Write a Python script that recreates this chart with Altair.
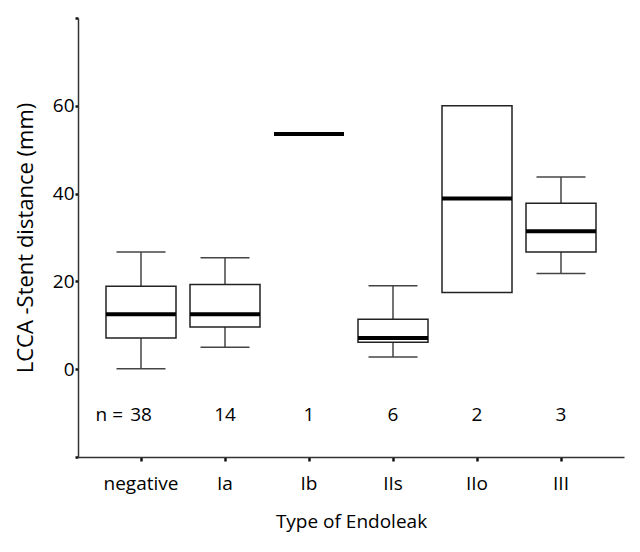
import altair as alt
import pandas as pd

categories = ["negative", "Ia", "Ib", "IIs", "IIo", "III"]
lower_whisker = [0.1, 5.0, None, 2.8, None, 21.8]
q1 = [7.1, 9.6, None, 6.15, 17.5, 26.7]
median = [12.5, 12.5, 53.6, 7.1, 38.9, 31.4]
q3 = [18.9, 19.3, None, 11.4, 60.0, 37.8]
upper_whisker = [26.7, 25.4, None, 19.0, None, 43.8]
n_counts = ["38", "14", "1", "6", "2", "3"]
n_label_y = -10.5

df = pd.DataFrame({
    "cat": categories,
    "lower": lower_whisker,
    "q1": q1,
    "median": median,
    "q3": q3,
    "upper": upper_whisker,
    "n": n_counts,
})
df["ny"] = n_label_y

FONT = "Open Sans"
FS = 19

x_enc = alt.X(
    "cat:N",
    sort=categories,
    scale=alt.Scale(paddingInner=0, paddingOuter=0.25),
    axis=alt.Axis(
        title="Type of Endoleak",
        labelAngle=0,
        domainColor="#333",
        domainWidth=1.5,
        tickColor="#111",
        tickWidth=2.5,
        tickSize=4,
        labelPadding=13,
        titlePadding=19,
        labelFont=FONT,
        titleFont=FONT,
        labelFontSize=FS,
        titleFontSize=FS,
        titleFontWeight="normal",
        labelColor="black",
        titleColor="black",
        grid=False,
    ),
)
y_scale = alt.Scale(domain=[-20, 80], nice=False, zero=False)
y_axis = alt.Axis(
    title="LCCA -Stent distance (mm)",
    values=[-20, 0, 20, 40, 60, 80],
    labelExpr="datum.value >= 0 && datum.value <= 60 ? datum.label : ''",
    domainColor="#333",
    domainWidth=1.5,
    tickColor="#111",
    tickWidth=2.5,
    tickSize=3,
    labelPadding=1,
    titlePadding=15,
    labelFont=FONT,
    titleFont=FONT,
    labelFontSize=FS,
    titleFontSize=22,
    titleFontWeight="normal",
    labelColor="black",
    titleColor="black",
    grid=False,
)

base = alt.Chart(df)

whisk_lo = base.transform_filter("isValid(datum.lower)").mark_rule(
    color="#444", strokeWidth=1.5
).encode(x=x_enc, y=alt.Y("lower:Q", scale=y_scale, axis=y_axis), y2="q1:Q")

whisk_hi = base.transform_filter("isValid(datum.upper)").mark_rule(
    color="#444", strokeWidth=1.5
).encode(x=x_enc, y=alt.Y("q3:Q", scale=y_scale, axis=y_axis), y2="upper:Q")

cap_lo = base.transform_filter("isValid(datum.lower)").mark_tick(
    color="#444", thickness=1.5, size=49, opacity=1
).encode(x=x_enc, y=alt.Y("lower:Q", scale=y_scale, axis=y_axis))

cap_hi = base.transform_filter("isValid(datum.upper)").mark_tick(
    color="#444", thickness=1.5, size=49, opacity=1
).encode(x=x_enc, y=alt.Y("upper:Q", scale=y_scale, axis=y_axis))

box = base.transform_filter("isValid(datum.q1)").mark_bar(
    size=70, fill="white", stroke="#222", strokeWidth=1.5, opacity=1
).encode(x=x_enc, y=alt.Y("q1:Q", scale=y_scale, axis=y_axis), y2="q3:Q")

med = base.mark_tick(color="black", thickness=4, size=70, opacity=1).encode(
    x=x_enc, y=alt.Y("median:Q", scale=y_scale, axis=y_axis)
)

ntext = base.mark_text(
    font=FONT, fontSize=FS, color="black", baseline="middle", align="center"
).encode(x=x_enc, y=alt.Y("ny:Q", scale=y_scale, axis=y_axis), text="n:N")

nprefix = base.transform_filter("datum.cat == 'negative'").mark_text(
    font=FONT, fontSize=FS, color="black", baseline="middle", align="right", dx=-18
).encode(x=x_enc, y=alt.Y("ny:Q", scale=y_scale, axis=y_axis), text=alt.value("n ="))

chart = alt.layer(
    whisk_lo, whisk_hi, cap_lo, cap_hi, box, med, ntext, nprefix
).properties(
    width=546,
    height=439,
    autosize=alt.AutoSizeParams(type="none"),
    padding={"left": 70, "top": 10, "right": 8, "bottom": 95},
).configure(background="white", view=alt.ViewConfig(stroke=None))

chart.save("out.html", embed_options={"renderer": "svg", "actions": False})
